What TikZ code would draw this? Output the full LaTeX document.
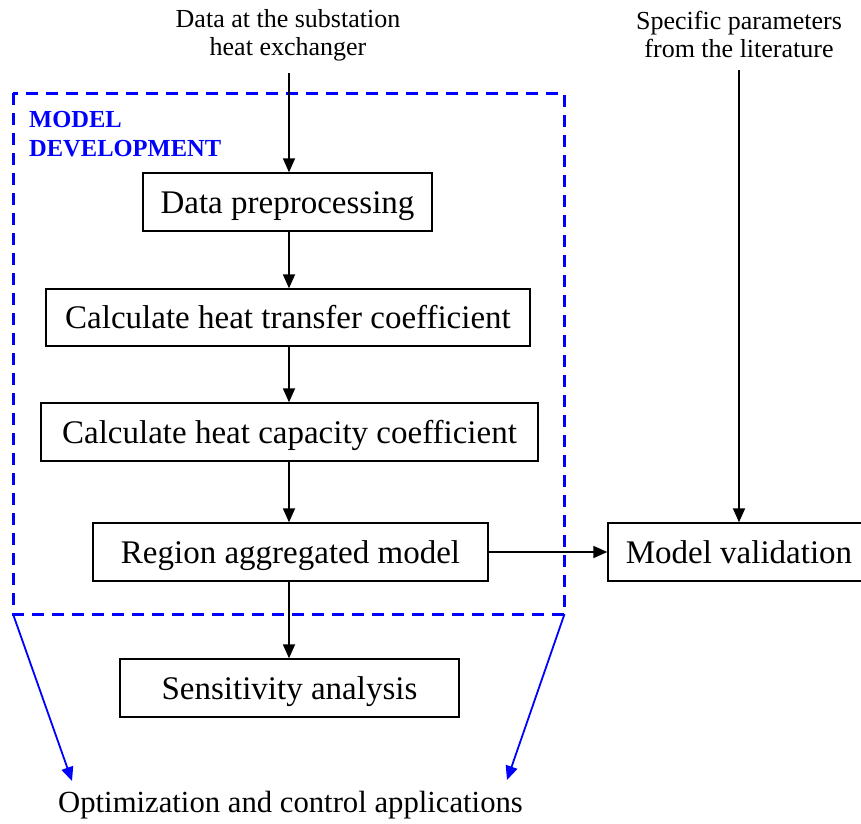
\documentclass[tikz,border=0pt]{standalone}
\usepackage{fontspec}
\setmainfont{Liberation Serif}
\usetikzlibrary{arrows.meta,calc}
\definecolor{frameblue}{RGB}{0,0,255}
\tikzset{
  stepbox/.style={draw=black, line width=1.4pt, inner sep=0pt,
    font=\fontsize{33}{40}\selectfont, text height=22pt, text depth=0pt},
  flow/.style={draw=black, line width=1.8pt, -{Triangle[length=14pt,width=12pt]}},
  bluearrow/.style={draw=frameblue, line width=1.8pt, -{Triangle[length=14pt,width=12pt]}},
  inlabel/.style={inner sep=0pt, align=center,
    font=\fontsize{26}{28}\selectfont},
}
\begin{document}
\begin{tikzpicture}[x=1pt, y=-1pt]
\clip (0,0) rectangle (861,823);
\fill[white] (0,0) rectangle (861,823);

% dashed frame of the model development stage
\draw[frameblue, line width=3pt, dash pattern=on 12pt off 8pt]
  (13,93) coordinate (fnw) rectangle (564.5,614) coordinate (fse);
\coordinate (fsw) at (13,614);
\node[anchor=north west, inner sep=0pt, align=left, text=frameblue,
  font=\fontsize{24.5}{29}\selectfont\bfseries] (title) at (29,111) {MODEL\\DEVELOPMENT};

% inputs
\node[inlabel, anchor=north] (data) at (288,9) {Data at the substation\\heat exchanger};
\node[inlabel, anchor=north] (lit) at (739,11) {Specific parameters\\from the literature};

% processing steps
\node[stepbox, minimum width=289pt, minimum height=58pt] (dp)  at (287.5,202) {Data preprocessing};
\node[stepbox, minimum width=484pt, minimum height=57pt] (htc) at (288,317.5) {Calculate heat transfer coefficient};
\node[stepbox, minimum width=497pt, minimum height=58pt] (hcc) at (289.5,432) {Calculate heat capacity coefficient};
\node[stepbox, minimum width=395pt, minimum height=58pt] (ram) at (290.5,552) {Region aggregated model};
\node[stepbox, minimum width=339pt, minimum height=58pt] (sa)  at (289.5,688) {Sensitivity analysis};
\node[stepbox, minimum width=262pt, minimum height=58pt] (mv)  at (739,552)   {Model validation};

% output
\node[inner sep=0pt, font=\fontsize{30.7}{36}\selectfont] (app) at (290.5,805) {Optimization and control applications};
\coordinate (appl) at (72,781);
\coordinate (appr) at (507,780);

% connectors, all on the common axis x = 289
\draw[flow] ([xshift=1pt, yshift=-12pt]data.south) -- ([xshift=1.5pt]dp.north);
\draw[flow] ([xshift=1.5pt]dp.south) -- ([xshift=1.5pt]dp.south |- htc.north);
\draw[flow] ([xshift=1pt]htc.south) -- ([xshift=1pt]htc.south |- hcc.north);
\draw[flow] ([xshift=-0.5pt]hcc.south) -- ([xshift=-0.5pt]hcc.south |- ram.north);
\draw[flow] ([xshift=-1.5pt]ram.south) -- ([xshift=-1.5pt]ram.south |- sa.north);
\draw[flow] (ram.east) -- (mv.west);
\draw[flow] ([yshift=-12pt]lit.south) -- (mv.north);
\draw[bluearrow] (fsw) -- (appl);
\draw[bluearrow] (fse) -- (appr);
\end{tikzpicture}
\end{document}
